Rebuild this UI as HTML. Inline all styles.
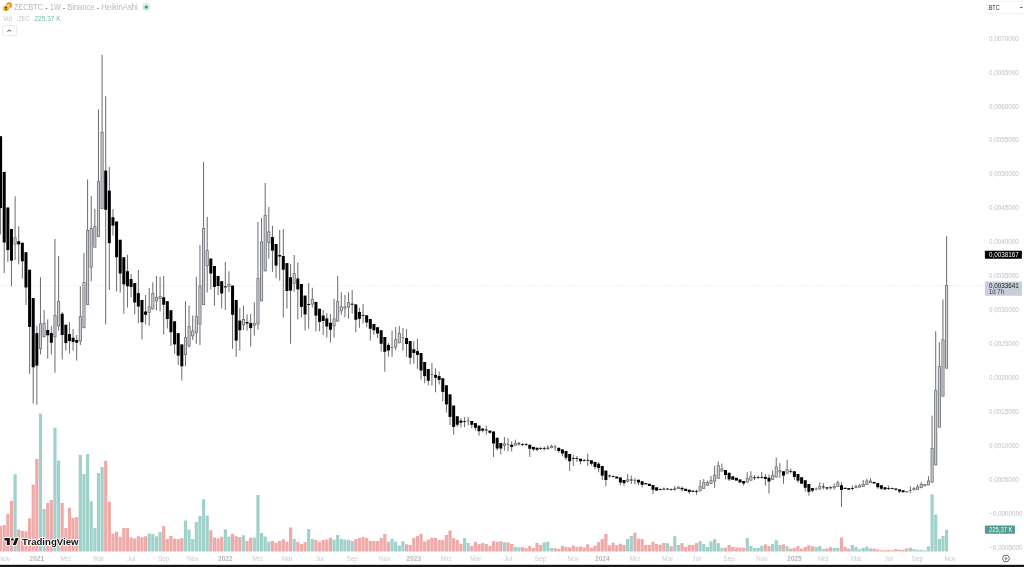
<!DOCTYPE html>
<html><head><meta charset="utf-8"><title>ZECBTC 1W</title>
<style>html,body{margin:0;padding:0;background:#fff;width:1024px;height:567px;overflow:hidden}svg{display:block;will-change:transform}text{font-family:"Liberation Sans",sans-serif}</style>
</head><body>
<svg width="1024" height="567" viewBox="0 0 1024 567">
<rect width="1024" height="567" fill="#fff"/>
<g>
<line x1="0" y1="285.5" x2="984" y2="285.5" stroke="#eceef4" stroke-width="0.8" stroke-dasharray="2.3 1.1"/>
<g>
<rect x="-1.00" y="525.90" width="3.2" height="25.60" fill="#eeaaa8"/>
<rect x="2.62" y="525.00" width="3.2" height="26.50" fill="#eeaaa8"/>
<rect x="6.25" y="514.00" width="3.2" height="37.50" fill="#eeaaa8"/>
<rect x="9.87" y="500.90" width="3.2" height="50.60" fill="#eeaaa8"/>
<rect x="13.50" y="474.25" width="3.2" height="77.25" fill="#a0d1cb"/>
<rect x="17.12" y="529.60" width="3.2" height="21.90" fill="#eeaaa8"/>
<rect x="20.75" y="530.90" width="3.2" height="20.60" fill="#eeaaa8"/>
<rect x="24.37" y="531.25" width="3.2" height="20.25" fill="#eeaaa8"/>
<rect x="28.00" y="518.40" width="3.2" height="33.10" fill="#eeaaa8"/>
<rect x="31.62" y="484.60" width="3.2" height="66.90" fill="#eeaaa8"/>
<rect x="35.24" y="459.00" width="3.2" height="92.50" fill="#eeaaa8"/>
<rect x="38.87" y="413.60" width="3.2" height="137.90" fill="#a0d1cb"/>
<rect x="42.49" y="509.00" width="3.2" height="42.50" fill="#a0d1cb"/>
<rect x="46.12" y="503.00" width="3.2" height="48.50" fill="#eeaaa8"/>
<rect x="49.74" y="500.00" width="3.2" height="51.50" fill="#eeaaa8"/>
<rect x="53.37" y="427.75" width="3.2" height="123.75" fill="#a0d1cb"/>
<rect x="56.99" y="460.50" width="3.2" height="91.00" fill="#a0d1cb"/>
<rect x="60.62" y="503.00" width="3.2" height="48.50" fill="#eeaaa8"/>
<rect x="64.24" y="528.00" width="3.2" height="23.50" fill="#eeaaa8"/>
<rect x="67.87" y="507.75" width="3.2" height="43.75" fill="#eeaaa8"/>
<rect x="71.49" y="518.00" width="3.2" height="33.50" fill="#eeaaa8"/>
<rect x="75.11" y="517.10" width="3.2" height="34.40" fill="#eeaaa8"/>
<rect x="78.74" y="454.90" width="3.2" height="96.60" fill="#a0d1cb"/>
<rect x="82.36" y="474.00" width="3.2" height="77.50" fill="#a0d1cb"/>
<rect x="85.99" y="454.00" width="3.2" height="97.50" fill="#a0d1cb"/>
<rect x="89.61" y="501.25" width="3.2" height="50.25" fill="#a0d1cb"/>
<rect x="93.24" y="528.00" width="3.2" height="23.50" fill="#a0d1cb"/>
<rect x="96.86" y="473.00" width="3.2" height="78.50" fill="#a0d1cb"/>
<rect x="100.49" y="467.00" width="3.2" height="84.50" fill="#a0d1cb"/>
<rect x="104.11" y="460.75" width="3.2" height="90.75" fill="#eeaaa8"/>
<rect x="107.73" y="501.75" width="3.2" height="49.75" fill="#eeaaa8"/>
<rect x="111.36" y="533.40" width="3.2" height="18.10" fill="#eeaaa8"/>
<rect x="114.98" y="531.75" width="3.2" height="19.75" fill="#eeaaa8"/>
<rect x="118.61" y="536.75" width="3.2" height="14.75" fill="#eeaaa8"/>
<rect x="122.23" y="528.00" width="3.2" height="23.50" fill="#eeaaa8"/>
<rect x="125.86" y="528.00" width="3.2" height="23.50" fill="#eeaaa8"/>
<rect x="129.48" y="537.50" width="3.2" height="14.00" fill="#eeaaa8"/>
<rect x="133.11" y="538.40" width="3.2" height="13.10" fill="#eeaaa8"/>
<rect x="136.73" y="536.25" width="3.2" height="15.25" fill="#eeaaa8"/>
<rect x="140.36" y="537.10" width="3.2" height="14.40" fill="#eeaaa8"/>
<rect x="143.98" y="536.25" width="3.2" height="15.25" fill="#eeaaa8"/>
<rect x="147.60" y="533.40" width="3.2" height="18.10" fill="#a0d1cb"/>
<rect x="151.23" y="534.25" width="3.2" height="17.25" fill="#a0d1cb"/>
<rect x="154.85" y="536.25" width="3.2" height="15.25" fill="#a0d1cb"/>
<rect x="158.48" y="532.10" width="3.2" height="19.40" fill="#a0d1cb"/>
<rect x="162.10" y="526.10" width="3.2" height="25.40" fill="#eeaaa8"/>
<rect x="165.73" y="539.00" width="3.2" height="12.50" fill="#eeaaa8"/>
<rect x="169.35" y="535.90" width="3.2" height="15.60" fill="#eeaaa8"/>
<rect x="172.98" y="538.75" width="3.2" height="12.75" fill="#eeaaa8"/>
<rect x="176.60" y="539.00" width="3.2" height="12.50" fill="#eeaaa8"/>
<rect x="180.22" y="538.10" width="3.2" height="13.40" fill="#eeaaa8"/>
<rect x="183.85" y="520.50" width="3.2" height="31.00" fill="#a0d1cb"/>
<rect x="187.47" y="529.60" width="3.2" height="21.90" fill="#a0d1cb"/>
<rect x="191.10" y="539.00" width="3.2" height="12.50" fill="#a0d1cb"/>
<rect x="194.72" y="522.10" width="3.2" height="29.40" fill="#a0d1cb"/>
<rect x="198.35" y="515.90" width="3.2" height="35.60" fill="#a0d1cb"/>
<rect x="201.97" y="499.25" width="3.2" height="52.25" fill="#a0d1cb"/>
<rect x="205.60" y="515.50" width="3.2" height="36.00" fill="#a0d1cb"/>
<rect x="209.22" y="530.25" width="3.2" height="21.25" fill="#eeaaa8"/>
<rect x="212.85" y="537.50" width="3.2" height="14.00" fill="#eeaaa8"/>
<rect x="216.47" y="538.40" width="3.2" height="13.10" fill="#eeaaa8"/>
<rect x="220.09" y="536.75" width="3.2" height="14.75" fill="#eeaaa8"/>
<rect x="223.72" y="529.25" width="3.2" height="22.25" fill="#a0d1cb"/>
<rect x="227.34" y="536.50" width="3.2" height="15.00" fill="#a0d1cb"/>
<rect x="230.97" y="533.75" width="3.2" height="17.75" fill="#eeaaa8"/>
<rect x="234.59" y="536.25" width="3.2" height="15.25" fill="#eeaaa8"/>
<rect x="238.22" y="537.10" width="3.2" height="14.40" fill="#eeaaa8"/>
<rect x="241.84" y="535.25" width="3.2" height="16.25" fill="#a0d1cb"/>
<rect x="245.47" y="540.90" width="3.2" height="10.60" fill="#eeaaa8"/>
<rect x="249.09" y="537.75" width="3.2" height="13.75" fill="#eeaaa8"/>
<rect x="252.71" y="537.50" width="3.2" height="14.00" fill="#a0d1cb"/>
<rect x="256.34" y="495.00" width="3.2" height="56.50" fill="#a0d1cb"/>
<rect x="259.96" y="533.00" width="3.2" height="18.50" fill="#a0d1cb"/>
<rect x="263.59" y="536.50" width="3.2" height="15.00" fill="#a0d1cb"/>
<rect x="267.21" y="541.75" width="3.2" height="9.75" fill="#a0d1cb"/>
<rect x="270.84" y="540.90" width="3.2" height="10.60" fill="#eeaaa8"/>
<rect x="274.46" y="542.75" width="3.2" height="8.75" fill="#eeaaa8"/>
<rect x="278.09" y="540.90" width="3.2" height="10.60" fill="#eeaaa8"/>
<rect x="281.71" y="539.25" width="3.2" height="12.25" fill="#eeaaa8"/>
<rect x="285.34" y="541.75" width="3.2" height="9.75" fill="#eeaaa8"/>
<rect x="288.96" y="527.50" width="3.2" height="24.00" fill="#eeaaa8"/>
<rect x="292.58" y="539.00" width="3.2" height="12.50" fill="#a0d1cb"/>
<rect x="296.21" y="541.75" width="3.2" height="9.75" fill="#eeaaa8"/>
<rect x="299.83" y="544.00" width="3.2" height="7.50" fill="#eeaaa8"/>
<rect x="303.46" y="542.10" width="3.2" height="9.40" fill="#eeaaa8"/>
<rect x="307.08" y="529.00" width="3.2" height="22.50" fill="#a0d1cb"/>
<rect x="310.71" y="539.00" width="3.2" height="12.50" fill="#a0d1cb"/>
<rect x="314.33" y="539.90" width="3.2" height="11.60" fill="#eeaaa8"/>
<rect x="317.96" y="541.75" width="3.2" height="9.75" fill="#eeaaa8"/>
<rect x="321.58" y="539.90" width="3.2" height="11.60" fill="#eeaaa8"/>
<rect x="325.20" y="539.60" width="3.2" height="11.90" fill="#eeaaa8"/>
<rect x="328.83" y="537.75" width="3.2" height="13.75" fill="#eeaaa8"/>
<rect x="332.45" y="539.60" width="3.2" height="11.90" fill="#a0d1cb"/>
<rect x="336.08" y="535.00" width="3.2" height="16.50" fill="#a0d1cb"/>
<rect x="339.70" y="539.00" width="3.2" height="12.50" fill="#a0d1cb"/>
<rect x="343.33" y="539.60" width="3.2" height="11.90" fill="#a0d1cb"/>
<rect x="346.95" y="540.00" width="3.2" height="11.50" fill="#a0d1cb"/>
<rect x="350.58" y="540.90" width="3.2" height="10.60" fill="#a0d1cb"/>
<rect x="354.20" y="539.00" width="3.2" height="12.50" fill="#eeaaa8"/>
<rect x="357.83" y="538.00" width="3.2" height="13.50" fill="#eeaaa8"/>
<rect x="361.45" y="537.10" width="3.2" height="14.40" fill="#eeaaa8"/>
<rect x="365.07" y="538.00" width="3.2" height="13.50" fill="#eeaaa8"/>
<rect x="368.70" y="540.90" width="3.2" height="10.60" fill="#eeaaa8"/>
<rect x="372.32" y="540.90" width="3.2" height="10.60" fill="#eeaaa8"/>
<rect x="375.95" y="540.90" width="3.2" height="10.60" fill="#eeaaa8"/>
<rect x="379.57" y="538.00" width="3.2" height="13.50" fill="#eeaaa8"/>
<rect x="383.20" y="534.00" width="3.2" height="17.50" fill="#eeaaa8"/>
<rect x="386.82" y="541.75" width="3.2" height="9.75" fill="#eeaaa8"/>
<rect x="390.45" y="538.75" width="3.2" height="12.75" fill="#a0d1cb"/>
<rect x="394.07" y="541.75" width="3.2" height="9.75" fill="#a0d1cb"/>
<rect x="397.69" y="545.50" width="3.2" height="6.00" fill="#a0d1cb"/>
<rect x="401.32" y="541.25" width="3.2" height="10.25" fill="#a0d1cb"/>
<rect x="404.94" y="544.25" width="3.2" height="7.25" fill="#eeaaa8"/>
<rect x="408.57" y="545.00" width="3.2" height="6.50" fill="#eeaaa8"/>
<rect x="412.19" y="538.10" width="3.2" height="13.40" fill="#eeaaa8"/>
<rect x="415.82" y="535.90" width="3.2" height="15.60" fill="#eeaaa8"/>
<rect x="419.44" y="533.75" width="3.2" height="17.75" fill="#eeaaa8"/>
<rect x="423.07" y="541.50" width="3.2" height="10.00" fill="#eeaaa8"/>
<rect x="426.69" y="539.60" width="3.2" height="11.90" fill="#eeaaa8"/>
<rect x="430.32" y="537.75" width="3.2" height="13.75" fill="#eeaaa8"/>
<rect x="433.94" y="538.00" width="3.2" height="13.50" fill="#eeaaa8"/>
<rect x="437.56" y="539.90" width="3.2" height="11.60" fill="#eeaaa8"/>
<rect x="441.19" y="539.90" width="3.2" height="11.60" fill="#eeaaa8"/>
<rect x="444.81" y="535.00" width="3.2" height="16.50" fill="#eeaaa8"/>
<rect x="448.44" y="530.50" width="3.2" height="21.00" fill="#eeaaa8"/>
<rect x="452.06" y="538.10" width="3.2" height="13.40" fill="#eeaaa8"/>
<rect x="455.69" y="539.90" width="3.2" height="11.60" fill="#eeaaa8"/>
<rect x="459.31" y="543.75" width="3.2" height="7.75" fill="#eeaaa8"/>
<rect x="462.94" y="538.10" width="3.2" height="13.40" fill="#a0d1cb"/>
<rect x="466.56" y="543.10" width="3.2" height="8.40" fill="#a0d1cb"/>
<rect x="470.19" y="545.90" width="3.2" height="5.60" fill="#eeaaa8"/>
<rect x="473.81" y="541.75" width="3.2" height="9.75" fill="#eeaaa8"/>
<rect x="477.43" y="544.00" width="3.2" height="7.50" fill="#eeaaa8"/>
<rect x="481.06" y="543.10" width="3.2" height="8.40" fill="#eeaaa8"/>
<rect x="484.68" y="544.00" width="3.2" height="7.50" fill="#eeaaa8"/>
<rect x="488.31" y="545.90" width="3.2" height="5.60" fill="#eeaaa8"/>
<rect x="491.93" y="541.10" width="3.2" height="10.40" fill="#eeaaa8"/>
<rect x="495.56" y="541.75" width="3.2" height="9.75" fill="#eeaaa8"/>
<rect x="499.18" y="541.25" width="3.2" height="10.25" fill="#eeaaa8"/>
<rect x="502.81" y="542.25" width="3.2" height="9.25" fill="#a0d1cb"/>
<rect x="506.43" y="542.50" width="3.2" height="9.00" fill="#eeaaa8"/>
<rect x="510.05" y="544.00" width="3.2" height="7.50" fill="#eeaaa8"/>
<rect x="513.68" y="546.90" width="3.2" height="4.60" fill="#a0d1cb"/>
<rect x="517.30" y="547.40" width="3.2" height="4.10" fill="#a0d1cb"/>
<rect x="520.93" y="547.10" width="3.2" height="4.40" fill="#eeaaa8"/>
<rect x="524.55" y="548.00" width="3.2" height="3.50" fill="#eeaaa8"/>
<rect x="528.18" y="546.10" width="3.2" height="5.40" fill="#eeaaa8"/>
<rect x="531.80" y="548.00" width="3.2" height="3.50" fill="#eeaaa8"/>
<rect x="535.43" y="543.00" width="3.2" height="8.50" fill="#eeaaa8"/>
<rect x="539.05" y="544.90" width="3.2" height="6.60" fill="#eeaaa8"/>
<rect x="542.67" y="542.40" width="3.2" height="9.10" fill="#a0d1cb"/>
<rect x="546.30" y="541.75" width="3.2" height="9.75" fill="#a0d1cb"/>
<rect x="549.92" y="548.00" width="3.2" height="3.50" fill="#a0d1cb"/>
<rect x="553.55" y="548.10" width="3.2" height="3.40" fill="#eeaaa8"/>
<rect x="557.17" y="549.00" width="3.2" height="2.50" fill="#eeaaa8"/>
<rect x="560.80" y="545.90" width="3.2" height="5.60" fill="#eeaaa8"/>
<rect x="564.42" y="546.90" width="3.2" height="4.60" fill="#eeaaa8"/>
<rect x="568.05" y="547.40" width="3.2" height="4.10" fill="#eeaaa8"/>
<rect x="571.67" y="545.60" width="3.2" height="5.90" fill="#eeaaa8"/>
<rect x="575.30" y="546.90" width="3.2" height="4.60" fill="#eeaaa8"/>
<rect x="578.92" y="546.50" width="3.2" height="5.00" fill="#eeaaa8"/>
<rect x="582.54" y="547.40" width="3.2" height="4.10" fill="#eeaaa8"/>
<rect x="586.17" y="544.25" width="3.2" height="7.25" fill="#eeaaa8"/>
<rect x="589.79" y="547.75" width="3.2" height="3.75" fill="#eeaaa8"/>
<rect x="593.42" y="545.60" width="3.2" height="5.90" fill="#eeaaa8"/>
<rect x="597.04" y="542.10" width="3.2" height="9.40" fill="#eeaaa8"/>
<rect x="600.67" y="539.00" width="3.2" height="12.50" fill="#eeaaa8"/>
<rect x="604.29" y="534.00" width="3.2" height="17.50" fill="#eeaaa8"/>
<rect x="607.92" y="545.25" width="3.2" height="6.25" fill="#eeaaa8"/>
<rect x="611.54" y="542.75" width="3.2" height="8.75" fill="#eeaaa8"/>
<rect x="615.16" y="545.25" width="3.2" height="6.25" fill="#eeaaa8"/>
<rect x="618.79" y="543.75" width="3.2" height="7.75" fill="#eeaaa8"/>
<rect x="622.41" y="544.90" width="3.2" height="6.60" fill="#eeaaa8"/>
<rect x="626.04" y="539.00" width="3.2" height="12.50" fill="#a0d1cb"/>
<rect x="629.66" y="535.90" width="3.2" height="15.60" fill="#a0d1cb"/>
<rect x="633.29" y="532.75" width="3.2" height="18.75" fill="#eeaaa8"/>
<rect x="636.91" y="538.75" width="3.2" height="12.75" fill="#eeaaa8"/>
<rect x="640.54" y="539.00" width="3.2" height="12.50" fill="#eeaaa8"/>
<rect x="644.16" y="544.90" width="3.2" height="6.60" fill="#eeaaa8"/>
<rect x="647.79" y="544.90" width="3.2" height="6.60" fill="#eeaaa8"/>
<rect x="651.41" y="541.75" width="3.2" height="9.75" fill="#eeaaa8"/>
<rect x="655.03" y="544.00" width="3.2" height="7.50" fill="#eeaaa8"/>
<rect x="658.66" y="544.60" width="3.2" height="6.90" fill="#eeaaa8"/>
<rect x="662.28" y="543.00" width="3.2" height="8.50" fill="#eeaaa8"/>
<rect x="665.91" y="543.25" width="3.2" height="8.25" fill="#a0d1cb"/>
<rect x="669.53" y="546.25" width="3.2" height="5.25" fill="#eeaaa8"/>
<rect x="673.16" y="536.25" width="3.2" height="15.25" fill="#a0d1cb"/>
<rect x="676.78" y="545.00" width="3.2" height="6.50" fill="#a0d1cb"/>
<rect x="680.41" y="543.10" width="3.2" height="8.40" fill="#eeaaa8"/>
<rect x="684.03" y="546.90" width="3.2" height="4.60" fill="#eeaaa8"/>
<rect x="687.65" y="544.90" width="3.2" height="6.60" fill="#eeaaa8"/>
<rect x="691.28" y="544.90" width="3.2" height="6.60" fill="#eeaaa8"/>
<rect x="694.90" y="543.10" width="3.2" height="8.40" fill="#eeaaa8"/>
<rect x="698.53" y="541.10" width="3.2" height="10.40" fill="#a0d1cb"/>
<rect x="702.15" y="544.00" width="3.2" height="7.50" fill="#a0d1cb"/>
<rect x="705.78" y="546.90" width="3.2" height="4.60" fill="#a0d1cb"/>
<rect x="709.40" y="541.50" width="3.2" height="10.00" fill="#a0d1cb"/>
<rect x="713.03" y="539.00" width="3.2" height="12.50" fill="#a0d1cb"/>
<rect x="716.65" y="543.10" width="3.2" height="8.40" fill="#a0d1cb"/>
<rect x="720.28" y="547.75" width="3.2" height="3.75" fill="#a0d1cb"/>
<rect x="723.90" y="547.75" width="3.2" height="3.75" fill="#eeaaa8"/>
<rect x="727.52" y="545.00" width="3.2" height="6.50" fill="#eeaaa8"/>
<rect x="731.15" y="546.90" width="3.2" height="4.60" fill="#eeaaa8"/>
<rect x="734.77" y="547.50" width="3.2" height="4.00" fill="#eeaaa8"/>
<rect x="738.40" y="547.50" width="3.2" height="4.00" fill="#eeaaa8"/>
<rect x="742.02" y="547.75" width="3.2" height="3.75" fill="#eeaaa8"/>
<rect x="745.65" y="538.10" width="3.2" height="13.40" fill="#a0d1cb"/>
<rect x="749.27" y="545.90" width="3.2" height="5.60" fill="#a0d1cb"/>
<rect x="752.90" y="548.00" width="3.2" height="3.50" fill="#a0d1cb"/>
<rect x="756.52" y="547.75" width="3.2" height="3.75" fill="#a0d1cb"/>
<rect x="760.14" y="545.90" width="3.2" height="5.60" fill="#a0d1cb"/>
<rect x="763.77" y="544.40" width="3.2" height="7.10" fill="#eeaaa8"/>
<rect x="767.39" y="546.10" width="3.2" height="5.40" fill="#eeaaa8"/>
<rect x="771.02" y="544.00" width="3.2" height="7.50" fill="#a0d1cb"/>
<rect x="774.64" y="540.25" width="3.2" height="11.25" fill="#a0d1cb"/>
<rect x="778.27" y="544.90" width="3.2" height="6.60" fill="#a0d1cb"/>
<rect x="781.89" y="544.40" width="3.2" height="7.10" fill="#eeaaa8"/>
<rect x="785.52" y="546.10" width="3.2" height="5.40" fill="#a0d1cb"/>
<rect x="789.14" y="548.60" width="3.2" height="2.90" fill="#eeaaa8"/>
<rect x="792.77" y="548.00" width="3.2" height="3.50" fill="#eeaaa8"/>
<rect x="796.39" y="546.10" width="3.2" height="5.40" fill="#eeaaa8"/>
<rect x="800.01" y="548.60" width="3.2" height="2.90" fill="#eeaaa8"/>
<rect x="803.64" y="546.90" width="3.2" height="4.60" fill="#eeaaa8"/>
<rect x="807.26" y="545.25" width="3.2" height="6.25" fill="#eeaaa8"/>
<rect x="810.89" y="546.25" width="3.2" height="5.25" fill="#eeaaa8"/>
<rect x="814.51" y="547.10" width="3.2" height="4.40" fill="#a0d1cb"/>
<rect x="818.14" y="546.10" width="3.2" height="5.40" fill="#a0d1cb"/>
<rect x="821.76" y="549.00" width="3.2" height="2.50" fill="#a0d1cb"/>
<rect x="825.39" y="548.40" width="3.2" height="3.10" fill="#eeaaa8"/>
<rect x="829.01" y="547.10" width="3.2" height="4.40" fill="#eeaaa8"/>
<rect x="832.63" y="548.00" width="3.2" height="3.50" fill="#a0d1cb"/>
<rect x="836.26" y="547.75" width="3.2" height="3.75" fill="#a0d1cb"/>
<rect x="839.88" y="537.40" width="3.2" height="14.10" fill="#eeaaa8"/>
<rect x="843.51" y="546.90" width="3.2" height="4.60" fill="#eeaaa8"/>
<rect x="847.13" y="548.60" width="3.2" height="2.90" fill="#eeaaa8"/>
<rect x="850.76" y="544.90" width="3.2" height="6.60" fill="#a0d1cb"/>
<rect x="854.38" y="546.90" width="3.2" height="4.60" fill="#a0d1cb"/>
<rect x="858.01" y="549.25" width="3.2" height="2.25" fill="#a0d1cb"/>
<rect x="861.63" y="548.00" width="3.2" height="3.50" fill="#a0d1cb"/>
<rect x="865.26" y="546.50" width="3.2" height="5.00" fill="#a0d1cb"/>
<rect x="868.88" y="548.40" width="3.2" height="3.10" fill="#a0d1cb"/>
<rect x="872.50" y="548.60" width="3.2" height="2.90" fill="#eeaaa8"/>
<rect x="876.13" y="549.60" width="3.2" height="1.90" fill="#eeaaa8"/>
<rect x="879.75" y="550.25" width="3.2" height="1.25" fill="#eeaaa8"/>
<rect x="883.38" y="550.25" width="3.2" height="1.25" fill="#eeaaa8"/>
<rect x="887.00" y="550.00" width="3.2" height="1.50" fill="#eeaaa8"/>
<rect x="890.63" y="550.25" width="3.2" height="1.25" fill="#eeaaa8"/>
<rect x="894.25" y="549.00" width="3.2" height="2.50" fill="#eeaaa8"/>
<rect x="897.88" y="549.75" width="3.2" height="1.75" fill="#eeaaa8"/>
<rect x="901.50" y="549.75" width="3.2" height="1.75" fill="#eeaaa8"/>
<rect x="905.12" y="548.50" width="3.2" height="3.00" fill="#eeaaa8"/>
<rect x="908.75" y="547.60" width="3.2" height="3.90" fill="#a0d1cb"/>
<rect x="912.37" y="549.10" width="3.2" height="2.40" fill="#a0d1cb"/>
<rect x="916.00" y="549.75" width="3.2" height="1.75" fill="#a0d1cb"/>
<rect x="919.62" y="549.75" width="3.2" height="1.75" fill="#a0d1cb"/>
<rect x="923.25" y="550.40" width="3.2" height="1.10" fill="#a0d1cb"/>
<rect x="926.87" y="546.40" width="3.2" height="5.10" fill="#a0d1cb"/>
<rect x="930.50" y="494.40" width="3.2" height="57.10" fill="#a0d1cb"/>
<rect x="934.12" y="514.50" width="3.2" height="37.00" fill="#a0d1cb"/>
<rect x="937.75" y="538.90" width="3.2" height="12.60" fill="#a0d1cb"/>
<rect x="941.37" y="536.00" width="3.2" height="15.50" fill="#a0d1cb"/>
<rect x="944.99" y="529.75" width="3.2" height="21.75" fill="#a0d1cb"/>
</g>
<g>
<rect x="0.10" y="136.25" width="1" height="98.15" fill="#6c6c6c"/>
<rect x="-0.90" y="136.25" width="3" height="71.85" fill="#000"/>
<rect x="3.72" y="171.90" width="1" height="101.20" fill="#6c6c6c"/>
<rect x="2.72" y="171.90" width="3" height="70.60" fill="#000"/>
<rect x="7.35" y="207.50" width="1" height="54.40" fill="#6c6c6c"/>
<rect x="6.35" y="207.50" width="3" height="42.50" fill="#000"/>
<rect x="10.97" y="229.00" width="1" height="57.25" fill="#6c6c6c"/>
<rect x="9.97" y="229.00" width="3" height="31.60" fill="#000"/>
<rect x="14.60" y="196.25" width="1" height="63.75" fill="#6c6c6c"/>
<rect x="13.60" y="237.50" width="3" height="6.90" fill="#686b70"/>
<rect x="14.40" y="238.20" width="1.4" height="5.50" fill="#cdd0d7"/>
<rect x="18.22" y="226.25" width="1" height="38.15" fill="#6c6c6c"/>
<rect x="17.22" y="241.25" width="3" height="3.15" fill="#000"/>
<rect x="21.85" y="242.75" width="1" height="35.75" fill="#6c6c6c"/>
<rect x="20.85" y="242.75" width="3" height="18.50" fill="#000"/>
<rect x="25.47" y="252.25" width="1" height="52.75" fill="#6c6c6c"/>
<rect x="24.47" y="252.25" width="3" height="35.25" fill="#000"/>
<rect x="29.10" y="269.75" width="1" height="104.00" fill="#6c6c6c"/>
<rect x="28.10" y="269.75" width="3" height="57.15" fill="#000"/>
<rect x="32.72" y="298.10" width="1" height="105.40" fill="#6c6c6c"/>
<rect x="31.72" y="298.10" width="3" height="69.15" fill="#000"/>
<rect x="36.34" y="325.60" width="1" height="79.15" fill="#6c6c6c"/>
<rect x="35.34" y="333.10" width="3" height="32.50" fill="#000"/>
<rect x="39.97" y="277.25" width="1" height="77.15" fill="#6c6c6c"/>
<rect x="38.97" y="323.50" width="3" height="25.50" fill="#686b70"/>
<rect x="39.77" y="324.20" width="1.4" height="24.10" fill="#cdd0d7"/>
<rect x="43.59" y="310.00" width="1" height="27.50" fill="#6c6c6c"/>
<rect x="42.59" y="323.10" width="3" height="13.80" fill="#686b70"/>
<rect x="43.39" y="323.80" width="1.4" height="12.40" fill="#cdd0d7"/>
<rect x="47.22" y="319.40" width="1" height="39.35" fill="#6c6c6c"/>
<rect x="46.22" y="330.00" width="3" height="5.25" fill="#000"/>
<rect x="50.84" y="326.25" width="1" height="28.50" fill="#6c6c6c"/>
<rect x="49.84" y="333.10" width="3" height="9.65" fill="#000"/>
<rect x="54.47" y="239.00" width="1" height="133.75" fill="#6c6c6c"/>
<rect x="53.47" y="315.00" width="3" height="22.25" fill="#686b70"/>
<rect x="54.27" y="315.70" width="1.4" height="20.85" fill="#cdd0d7"/>
<rect x="58.09" y="256.00" width="1" height="74.60" fill="#6c6c6c"/>
<rect x="57.09" y="301.00" width="3" height="25.25" fill="#686b70"/>
<rect x="57.89" y="301.70" width="1.4" height="23.85" fill="#cdd0d7"/>
<rect x="61.72" y="311.90" width="1" height="47.50" fill="#6c6c6c"/>
<rect x="60.72" y="313.75" width="3" height="21.25" fill="#000"/>
<rect x="65.34" y="324.75" width="1" height="25.85" fill="#6c6c6c"/>
<rect x="64.34" y="324.75" width="3" height="18.35" fill="#000"/>
<rect x="68.97" y="322.25" width="1" height="31.25" fill="#6c6c6c"/>
<rect x="67.97" y="334.00" width="3" height="7.00" fill="#000"/>
<rect x="72.59" y="329.00" width="1" height="21.60" fill="#6c6c6c"/>
<rect x="71.59" y="337.75" width="3" height="4.15" fill="#000"/>
<rect x="76.21" y="335.00" width="1" height="25.60" fill="#6c6c6c"/>
<rect x="75.21" y="340.00" width="3" height="2.75" fill="#000"/>
<rect x="79.84" y="286.25" width="1" height="58.75" fill="#6c6c6c"/>
<rect x="78.84" y="316.25" width="3" height="25.00" fill="#686b70"/>
<rect x="79.64" y="316.95" width="1.4" height="23.60" fill="#cdd0d7"/>
<rect x="83.46" y="253.00" width="1" height="75.10" fill="#6c6c6c"/>
<rect x="82.46" y="282.25" width="3" height="45.85" fill="#686b70"/>
<rect x="83.26" y="282.95" width="1.4" height="44.45" fill="#cdd0d7"/>
<rect x="87.09" y="179.40" width="1" height="125.60" fill="#6c6c6c"/>
<rect x="86.09" y="230.00" width="3" height="75.00" fill="#686b70"/>
<rect x="86.89" y="230.70" width="1.4" height="73.60" fill="#cdd0d7"/>
<rect x="90.71" y="196.00" width="1" height="85.25" fill="#6c6c6c"/>
<rect x="89.71" y="228.10" width="3" height="39.40" fill="#686b70"/>
<rect x="90.51" y="228.80" width="1.4" height="38.00" fill="#cdd0d7"/>
<rect x="94.34" y="208.75" width="1" height="38.75" fill="#6c6c6c"/>
<rect x="93.34" y="226.25" width="3" height="21.25" fill="#686b70"/>
<rect x="94.14" y="226.95" width="1.4" height="19.85" fill="#cdd0d7"/>
<rect x="97.96" y="109.40" width="1" height="127.50" fill="#6c6c6c"/>
<rect x="96.96" y="181.25" width="3" height="55.65" fill="#686b70"/>
<rect x="97.76" y="181.95" width="1.4" height="54.25" fill="#cdd0d7"/>
<rect x="101.59" y="54.75" width="1" height="154.00" fill="#6c6c6c"/>
<rect x="100.59" y="131.90" width="3" height="76.85" fill="#686b70"/>
<rect x="101.39" y="132.60" width="1.4" height="75.45" fill="#cdd0d7"/>
<rect x="105.21" y="96.25" width="1" height="228.15" fill="#6c6c6c"/>
<rect x="104.21" y="170.60" width="3" height="39.15" fill="#000"/>
<rect x="108.83" y="166.90" width="1" height="123.10" fill="#6c6c6c"/>
<rect x="107.83" y="190.60" width="3" height="52.50" fill="#000"/>
<rect x="112.46" y="209.00" width="1" height="26.60" fill="#6c6c6c"/>
<rect x="111.46" y="217.25" width="3" height="8.35" fill="#000"/>
<rect x="116.08" y="221.50" width="1" height="70.00" fill="#6c6c6c"/>
<rect x="115.08" y="221.50" width="3" height="35.75" fill="#000"/>
<rect x="119.71" y="239.75" width="1" height="52.75" fill="#6c6c6c"/>
<rect x="118.71" y="239.75" width="3" height="33.75" fill="#000"/>
<rect x="123.33" y="257.25" width="1" height="56.50" fill="#6c6c6c"/>
<rect x="122.33" y="257.25" width="3" height="27.15" fill="#000"/>
<rect x="126.96" y="254.75" width="1" height="52.75" fill="#6c6c6c"/>
<rect x="125.96" y="271.25" width="3" height="15.00" fill="#000"/>
<rect x="130.58" y="274.00" width="1" height="23.50" fill="#6c6c6c"/>
<rect x="129.58" y="279.00" width="3" height="7.90" fill="#000"/>
<rect x="134.21" y="283.10" width="1" height="31.30" fill="#6c6c6c"/>
<rect x="133.21" y="283.10" width="3" height="19.40" fill="#000"/>
<rect x="137.83" y="270.00" width="1" height="53.10" fill="#6c6c6c"/>
<rect x="136.83" y="293.10" width="3" height="13.40" fill="#000"/>
<rect x="141.46" y="300.00" width="1" height="39.40" fill="#6c6c6c"/>
<rect x="140.46" y="300.00" width="3" height="22.25" fill="#000"/>
<rect x="145.08" y="295.00" width="1" height="29.40" fill="#6c6c6c"/>
<rect x="144.08" y="311.50" width="3" height="3.25" fill="#000"/>
<rect x="148.70" y="288.10" width="1" height="37.50" fill="#6c6c6c"/>
<rect x="147.70" y="306.50" width="3" height="6.25" fill="#686b70"/>
<rect x="148.50" y="307.20" width="1.4" height="4.85" fill="#cdd0d7"/>
<rect x="152.33" y="282.25" width="1" height="27.15" fill="#6c6c6c"/>
<rect x="151.33" y="293.10" width="3" height="16.30" fill="#686b70"/>
<rect x="152.13" y="293.80" width="1.4" height="14.90" fill="#cdd0d7"/>
<rect x="155.95" y="276.00" width="1" height="34.60" fill="#6c6c6c"/>
<rect x="154.95" y="296.90" width="3" height="4.35" fill="#686b70"/>
<rect x="155.75" y="297.60" width="1.4" height="2.95" fill="#cdd0d7"/>
<rect x="159.58" y="276.90" width="1" height="34.60" fill="#6c6c6c"/>
<rect x="158.58" y="296.25" width="3" height="2.75" fill="#686b70"/>
<rect x="159.38" y="296.95" width="1.4" height="1.35" fill="#cdd0d7"/>
<rect x="163.20" y="276.00" width="1" height="58.40" fill="#6c6c6c"/>
<rect x="162.20" y="297.25" width="3" height="7.50" fill="#000"/>
<rect x="166.83" y="301.25" width="1" height="27.25" fill="#6c6c6c"/>
<rect x="165.83" y="301.25" width="3" height="17.75" fill="#000"/>
<rect x="170.45" y="310.25" width="1" height="35.75" fill="#6c6c6c"/>
<rect x="169.45" y="310.25" width="3" height="22.00" fill="#000"/>
<rect x="174.08" y="321.25" width="1" height="32.50" fill="#6c6c6c"/>
<rect x="173.08" y="321.25" width="3" height="23.15" fill="#000"/>
<rect x="177.70" y="333.10" width="1" height="31.90" fill="#6c6c6c"/>
<rect x="176.70" y="333.10" width="3" height="22.50" fill="#000"/>
<rect x="181.32" y="344.40" width="1" height="36.20" fill="#6c6c6c"/>
<rect x="180.32" y="344.40" width="3" height="21.85" fill="#000"/>
<rect x="184.95" y="301.25" width="1" height="65.00" fill="#6c6c6c"/>
<rect x="183.95" y="337.25" width="3" height="17.75" fill="#686b70"/>
<rect x="184.75" y="337.95" width="1.4" height="16.35" fill="#cdd0d7"/>
<rect x="188.57" y="305.60" width="1" height="41.90" fill="#6c6c6c"/>
<rect x="187.57" y="326.25" width="3" height="20.00" fill="#686b70"/>
<rect x="188.37" y="326.95" width="1.4" height="18.60" fill="#cdd0d7"/>
<rect x="192.20" y="315.60" width="1" height="24.40" fill="#6c6c6c"/>
<rect x="191.20" y="330.60" width="3" height="5.65" fill="#686b70"/>
<rect x="192.00" y="331.30" width="1.4" height="4.25" fill="#cdd0d7"/>
<rect x="195.82" y="276.90" width="1" height="66.85" fill="#6c6c6c"/>
<rect x="194.82" y="316.25" width="3" height="16.85" fill="#686b70"/>
<rect x="195.62" y="316.95" width="1.4" height="15.45" fill="#cdd0d7"/>
<rect x="199.45" y="245.00" width="1" height="100.00" fill="#6c6c6c"/>
<rect x="198.45" y="285.60" width="3" height="38.80" fill="#686b70"/>
<rect x="199.25" y="286.30" width="1.4" height="37.40" fill="#cdd0d7"/>
<rect x="203.07" y="161.90" width="1" height="143.10" fill="#6c6c6c"/>
<rect x="202.07" y="228.10" width="3" height="76.90" fill="#686b70"/>
<rect x="202.87" y="228.80" width="1.4" height="75.50" fill="#cdd0d7"/>
<rect x="206.70" y="216.90" width="1" height="75.60" fill="#6c6c6c"/>
<rect x="205.70" y="250.25" width="3" height="16.00" fill="#686b70"/>
<rect x="206.50" y="250.95" width="1.4" height="14.60" fill="#cdd0d7"/>
<rect x="210.32" y="258.50" width="1" height="30.90" fill="#6c6c6c"/>
<rect x="209.32" y="258.50" width="3" height="15.00" fill="#000"/>
<rect x="213.95" y="266.00" width="1" height="39.60" fill="#6c6c6c"/>
<rect x="212.95" y="266.00" width="3" height="20.90" fill="#000"/>
<rect x="217.57" y="276.00" width="1" height="19.00" fill="#6c6c6c"/>
<rect x="216.57" y="276.00" width="3" height="10.00" fill="#000"/>
<rect x="221.19" y="281.25" width="1" height="27.25" fill="#6c6c6c"/>
<rect x="220.19" y="281.25" width="3" height="12.25" fill="#000"/>
<rect x="224.82" y="261.90" width="1" height="48.10" fill="#6c6c6c"/>
<rect x="223.82" y="286.40" width="3" height="1.00" fill="#000"/>
<rect x="228.44" y="271.25" width="1" height="21.00" fill="#6c6c6c"/>
<rect x="227.44" y="284.00" width="3" height="2.90" fill="#686b70"/>
<rect x="228.24" y="284.70" width="1.4" height="1.50" fill="#cdd0d7"/>
<rect x="232.07" y="285.60" width="1" height="63.15" fill="#6c6c6c"/>
<rect x="231.07" y="285.60" width="3" height="29.15" fill="#000"/>
<rect x="235.69" y="300.00" width="1" height="56.90" fill="#6c6c6c"/>
<rect x="234.69" y="300.00" width="3" height="40.60" fill="#000"/>
<rect x="239.32" y="308.10" width="1" height="42.50" fill="#6c6c6c"/>
<rect x="238.32" y="320.60" width="3" height="9.65" fill="#000"/>
<rect x="242.94" y="305.60" width="1" height="24.40" fill="#6c6c6c"/>
<rect x="241.94" y="319.00" width="3" height="6.25" fill="#686b70"/>
<rect x="242.74" y="319.70" width="1.4" height="4.85" fill="#cdd0d7"/>
<rect x="246.57" y="314.40" width="1" height="16.20" fill="#6c6c6c"/>
<rect x="245.57" y="322.00" width="3" height="1.50" fill="#000"/>
<rect x="250.19" y="314.00" width="1" height="32.50" fill="#6c6c6c"/>
<rect x="249.19" y="323.10" width="3" height="5.00" fill="#000"/>
<rect x="253.81" y="302.25" width="1" height="33.35" fill="#6c6c6c"/>
<rect x="252.81" y="323.10" width="3" height="2.50" fill="#686b70"/>
<rect x="253.61" y="323.80" width="1.4" height="1.10" fill="#cdd0d7"/>
<rect x="257.44" y="222.00" width="1" height="107.40" fill="#6c6c6c"/>
<rect x="256.44" y="278.10" width="3" height="46.30" fill="#686b70"/>
<rect x="257.24" y="278.80" width="1.4" height="44.90" fill="#cdd0d7"/>
<rect x="261.06" y="218.00" width="1" height="83.25" fill="#6c6c6c"/>
<rect x="260.06" y="241.50" width="3" height="59.75" fill="#686b70"/>
<rect x="260.86" y="242.20" width="1.4" height="58.35" fill="#cdd0d7"/>
<rect x="264.69" y="183.00" width="1" height="88.25" fill="#6c6c6c"/>
<rect x="263.69" y="214.90" width="3" height="56.35" fill="#686b70"/>
<rect x="264.49" y="215.60" width="1.4" height="54.95" fill="#cdd0d7"/>
<rect x="268.31" y="207.00" width="1" height="51.75" fill="#6c6c6c"/>
<rect x="267.31" y="231.50" width="3" height="11.60" fill="#686b70"/>
<rect x="268.11" y="232.20" width="1.4" height="10.20" fill="#cdd0d7"/>
<rect x="271.94" y="225.75" width="1" height="46.15" fill="#6c6c6c"/>
<rect x="270.94" y="237.00" width="3" height="13.60" fill="#000"/>
<rect x="275.56" y="244.00" width="1" height="34.10" fill="#6c6c6c"/>
<rect x="274.56" y="244.00" width="3" height="21.60" fill="#000"/>
<rect x="279.19" y="229.90" width="1" height="50.70" fill="#6c6c6c"/>
<rect x="278.19" y="255.00" width="3" height="1.50" fill="#000"/>
<rect x="282.81" y="229.00" width="1" height="88.50" fill="#6c6c6c"/>
<rect x="281.81" y="256.00" width="3" height="13.75" fill="#000"/>
<rect x="286.44" y="263.10" width="1" height="45.40" fill="#6c6c6c"/>
<rect x="285.44" y="263.10" width="3" height="27.90" fill="#000"/>
<rect x="290.06" y="264.00" width="1" height="79.75" fill="#6c6c6c"/>
<rect x="289.06" y="277.25" width="3" height="13.35" fill="#000"/>
<rect x="293.68" y="255.00" width="1" height="36.50" fill="#6c6c6c"/>
<rect x="292.68" y="273.10" width="3" height="10.65" fill="#686b70"/>
<rect x="293.48" y="273.80" width="1.4" height="9.25" fill="#cdd0d7"/>
<rect x="297.31" y="262.50" width="1" height="56.90" fill="#6c6c6c"/>
<rect x="296.31" y="278.50" width="3" height="10.90" fill="#000"/>
<rect x="300.93" y="284.00" width="1" height="33.50" fill="#6c6c6c"/>
<rect x="299.93" y="284.00" width="3" height="22.90" fill="#000"/>
<rect x="304.56" y="295.60" width="1" height="35.00" fill="#6c6c6c"/>
<rect x="303.56" y="295.60" width="3" height="18.80" fill="#000"/>
<rect x="308.18" y="283.10" width="1" height="45.65" fill="#6c6c6c"/>
<rect x="307.18" y="304.00" width="3" height="1.00" fill="#000"/>
<rect x="311.81" y="287.75" width="1" height="19.75" fill="#6c6c6c"/>
<rect x="310.81" y="299.00" width="3" height="5.40" fill="#686b70"/>
<rect x="311.61" y="299.70" width="1.4" height="4.00" fill="#cdd0d7"/>
<rect x="315.43" y="301.90" width="1" height="29.60" fill="#6c6c6c"/>
<rect x="314.43" y="301.90" width="3" height="13.70" fill="#000"/>
<rect x="319.06" y="308.75" width="1" height="22.50" fill="#6c6c6c"/>
<rect x="318.06" y="308.75" width="3" height="13.15" fill="#000"/>
<rect x="322.68" y="310.00" width="1" height="25.00" fill="#6c6c6c"/>
<rect x="321.68" y="315.60" width="3" height="5.40" fill="#000"/>
<rect x="326.31" y="313.10" width="1" height="24.40" fill="#6c6c6c"/>
<rect x="325.31" y="318.50" width="3" height="8.00" fill="#000"/>
<rect x="329.93" y="314.00" width="1" height="28.50" fill="#6c6c6c"/>
<rect x="328.93" y="322.75" width="3" height="7.00" fill="#000"/>
<rect x="333.55" y="298.75" width="1" height="38.75" fill="#6c6c6c"/>
<rect x="332.55" y="318.50" width="3" height="7.75" fill="#686b70"/>
<rect x="333.35" y="319.20" width="1.4" height="6.35" fill="#cdd0d7"/>
<rect x="337.18" y="276.00" width="1" height="45.50" fill="#6c6c6c"/>
<rect x="336.18" y="301.25" width="3" height="20.25" fill="#686b70"/>
<rect x="336.98" y="301.95" width="1.4" height="18.85" fill="#cdd0d7"/>
<rect x="340.80" y="292.25" width="1" height="22.50" fill="#6c6c6c"/>
<rect x="339.80" y="306.50" width="3" height="4.75" fill="#686b70"/>
<rect x="340.60" y="307.20" width="1.4" height="3.35" fill="#cdd0d7"/>
<rect x="344.43" y="295.00" width="1" height="22.50" fill="#6c6c6c"/>
<rect x="343.43" y="306.50" width="3" height="2.00" fill="#686b70"/>
<rect x="344.23" y="307.20" width="1.4" height="0.60" fill="#cdd0d7"/>
<rect x="348.05" y="292.25" width="1" height="26.50" fill="#6c6c6c"/>
<rect x="347.05" y="302.25" width="3" height="5.25" fill="#686b70"/>
<rect x="347.85" y="302.95" width="1.4" height="3.85" fill="#cdd0d7"/>
<rect x="351.68" y="290.00" width="1" height="23.75" fill="#6c6c6c"/>
<rect x="350.68" y="303.70" width="3" height="1.00" fill="#000"/>
<rect x="355.30" y="304.40" width="1" height="27.85" fill="#6c6c6c"/>
<rect x="354.30" y="304.40" width="3" height="15.35" fill="#000"/>
<rect x="358.93" y="307.75" width="1" height="20.00" fill="#6c6c6c"/>
<rect x="357.93" y="311.90" width="3" height="6.85" fill="#000"/>
<rect x="362.55" y="304.00" width="1" height="19.50" fill="#6c6c6c"/>
<rect x="361.55" y="314.90" width="3" height="0.80" fill="#000"/>
<rect x="366.17" y="315.25" width="1" height="12.00" fill="#6c6c6c"/>
<rect x="365.17" y="315.25" width="3" height="7.25" fill="#000"/>
<rect x="369.80" y="319.00" width="1" height="21.60" fill="#6c6c6c"/>
<rect x="368.80" y="319.00" width="3" height="9.75" fill="#000"/>
<rect x="373.42" y="324.00" width="1" height="10.75" fill="#6c6c6c"/>
<rect x="372.42" y="324.00" width="3" height="6.25" fill="#000"/>
<rect x="377.05" y="327.25" width="1" height="10.85" fill="#6c6c6c"/>
<rect x="376.05" y="327.25" width="3" height="6.25" fill="#000"/>
<rect x="380.67" y="330.25" width="1" height="21.00" fill="#6c6c6c"/>
<rect x="379.67" y="330.25" width="3" height="13.50" fill="#000"/>
<rect x="384.30" y="337.00" width="1" height="34.75" fill="#6c6c6c"/>
<rect x="383.30" y="337.00" width="3" height="14.75" fill="#000"/>
<rect x="387.92" y="343.00" width="1" height="13.75" fill="#6c6c6c"/>
<rect x="386.92" y="344.90" width="3" height="5.60" fill="#000"/>
<rect x="391.55" y="330.50" width="1" height="26.25" fill="#6c6c6c"/>
<rect x="390.55" y="347.00" width="3" height="0.80" fill="#686b70"/>
<rect x="395.17" y="327.00" width="1" height="23.25" fill="#6c6c6c"/>
<rect x="394.17" y="339.25" width="3" height="8.15" fill="#686b70"/>
<rect x="394.97" y="339.95" width="1.4" height="6.75" fill="#cdd0d7"/>
<rect x="398.80" y="326.10" width="1" height="17.15" fill="#6c6c6c"/>
<rect x="397.80" y="333.00" width="3" height="10.25" fill="#686b70"/>
<rect x="398.60" y="333.70" width="1.4" height="8.85" fill="#cdd0d7"/>
<rect x="402.42" y="328.00" width="1" height="22.50" fill="#6c6c6c"/>
<rect x="401.42" y="337.40" width="3" height="0.80" fill="#686b70"/>
<rect x="406.04" y="329.25" width="1" height="27.50" fill="#6c6c6c"/>
<rect x="405.04" y="338.00" width="3" height="6.00" fill="#000"/>
<rect x="409.67" y="341.10" width="1" height="23.15" fill="#6c6c6c"/>
<rect x="408.67" y="341.10" width="3" height="16.65" fill="#000"/>
<rect x="413.29" y="341.10" width="1" height="22.50" fill="#6c6c6c"/>
<rect x="412.29" y="349.25" width="3" height="3.75" fill="#000"/>
<rect x="416.92" y="338.60" width="1" height="30.40" fill="#6c6c6c"/>
<rect x="415.92" y="351.10" width="3" height="3.80" fill="#000"/>
<rect x="420.54" y="353.00" width="1" height="26.50" fill="#6c6c6c"/>
<rect x="419.54" y="353.00" width="3" height="17.50" fill="#000"/>
<rect x="424.17" y="362.00" width="1" height="21.25" fill="#6c6c6c"/>
<rect x="423.17" y="362.00" width="3" height="14.10" fill="#000"/>
<rect x="427.79" y="369.00" width="1" height="16.25" fill="#6c6c6c"/>
<rect x="426.79" y="369.00" width="3" height="11.75" fill="#000"/>
<rect x="431.42" y="363.00" width="1" height="22.50" fill="#6c6c6c"/>
<rect x="430.42" y="374.10" width="3" height="0.80" fill="#686b70"/>
<rect x="435.04" y="368.25" width="1" height="24.00" fill="#6c6c6c"/>
<rect x="434.04" y="374.90" width="3" height="2.85" fill="#000"/>
<rect x="438.66" y="371.50" width="1" height="13.00" fill="#6c6c6c"/>
<rect x="437.66" y="376.10" width="3" height="3.80" fill="#000"/>
<rect x="442.29" y="378.25" width="1" height="23.25" fill="#6c6c6c"/>
<rect x="441.29" y="378.25" width="3" height="13.65" fill="#000"/>
<rect x="445.91" y="385.25" width="1" height="27.25" fill="#6c6c6c"/>
<rect x="444.91" y="385.25" width="3" height="19.15" fill="#000"/>
<rect x="449.54" y="394.40" width="1" height="30.85" fill="#6c6c6c"/>
<rect x="448.54" y="394.40" width="3" height="22.50" fill="#000"/>
<rect x="453.16" y="405.60" width="1" height="29.15" fill="#6c6c6c"/>
<rect x="452.16" y="405.60" width="3" height="21.30" fill="#000"/>
<rect x="456.79" y="416.25" width="1" height="10.65" fill="#6c6c6c"/>
<rect x="455.79" y="416.25" width="3" height="8.50" fill="#000"/>
<rect x="460.41" y="418.10" width="1" height="9.40" fill="#6c6c6c"/>
<rect x="459.41" y="420.60" width="3" height="2.15" fill="#000"/>
<rect x="464.04" y="417.25" width="1" height="10.00" fill="#6c6c6c"/>
<rect x="463.04" y="421.10" width="3" height="0.80" fill="#000"/>
<rect x="467.66" y="416.90" width="1" height="8.35" fill="#6c6c6c"/>
<rect x="466.66" y="420.60" width="3" height="0.80" fill="#686b70"/>
<rect x="471.29" y="421.00" width="1" height="7.10" fill="#6c6c6c"/>
<rect x="470.29" y="421.00" width="3" height="3.75" fill="#000"/>
<rect x="474.91" y="423.10" width="1" height="7.50" fill="#6c6c6c"/>
<rect x="473.91" y="423.10" width="3" height="4.65" fill="#000"/>
<rect x="478.53" y="425.60" width="1" height="10.00" fill="#6c6c6c"/>
<rect x="477.53" y="425.60" width="3" height="5.65" fill="#000"/>
<rect x="482.16" y="428.50" width="1" height="4.00" fill="#6c6c6c"/>
<rect x="481.16" y="428.50" width="3" height="2.10" fill="#000"/>
<rect x="485.78" y="425.60" width="1" height="9.15" fill="#6c6c6c"/>
<rect x="484.78" y="429.60" width="3" height="0.80" fill="#000"/>
<rect x="489.41" y="430.60" width="1" height="3.15" fill="#6c6c6c"/>
<rect x="488.41" y="430.60" width="3" height="2.15" fill="#000"/>
<rect x="493.03" y="431.50" width="1" height="25.40" fill="#6c6c6c"/>
<rect x="492.03" y="431.50" width="3" height="12.00" fill="#000"/>
<rect x="496.66" y="437.75" width="1" height="12.85" fill="#6c6c6c"/>
<rect x="495.66" y="437.75" width="3" height="10.75" fill="#000"/>
<rect x="500.28" y="443.10" width="1" height="11.30" fill="#6c6c6c"/>
<rect x="499.28" y="443.10" width="3" height="5.40" fill="#000"/>
<rect x="503.91" y="436.90" width="1" height="13.70" fill="#6c6c6c"/>
<rect x="502.91" y="443.50" width="3" height="2.10" fill="#686b70"/>
<rect x="503.71" y="444.20" width="1.4" height="0.70" fill="#cdd0d7"/>
<rect x="507.53" y="438.10" width="1" height="13.15" fill="#6c6c6c"/>
<rect x="506.53" y="444.00" width="3" height="0.80" fill="#686b70"/>
<rect x="511.15" y="441.25" width="1" height="10.25" fill="#6c6c6c"/>
<rect x="510.15" y="444.75" width="3" height="2.15" fill="#000"/>
<rect x="514.78" y="439.75" width="1" height="5.85" fill="#6c6c6c"/>
<rect x="513.78" y="443.10" width="3" height="2.50" fill="#686b70"/>
<rect x="514.58" y="443.80" width="1.4" height="1.10" fill="#cdd0d7"/>
<rect x="518.40" y="441.90" width="1" height="3.70" fill="#6c6c6c"/>
<rect x="517.40" y="443.40" width="3" height="0.80" fill="#000"/>
<rect x="522.03" y="443.10" width="1" height="3.15" fill="#6c6c6c"/>
<rect x="521.03" y="444.00" width="3" height="0.80" fill="#000"/>
<rect x="525.65" y="443.10" width="1" height="3.15" fill="#6c6c6c"/>
<rect x="524.65" y="444.00" width="3" height="0.80" fill="#000"/>
<rect x="529.28" y="444.75" width="1" height="12.15" fill="#6c6c6c"/>
<rect x="528.28" y="444.75" width="3" height="4.00" fill="#000"/>
<rect x="532.90" y="446.90" width="1" height="4.10" fill="#6c6c6c"/>
<rect x="531.90" y="446.90" width="3" height="2.50" fill="#000"/>
<rect x="536.53" y="447.75" width="1" height="3.50" fill="#6c6c6c"/>
<rect x="535.53" y="447.75" width="3" height="2.00" fill="#000"/>
<rect x="540.15" y="446.90" width="1" height="3.10" fill="#6c6c6c"/>
<rect x="539.15" y="448.10" width="3" height="0.80" fill="#000"/>
<rect x="543.77" y="446.25" width="1" height="4.35" fill="#6c6c6c"/>
<rect x="542.77" y="448.10" width="3" height="0.80" fill="#000"/>
<rect x="547.40" y="445.00" width="1" height="5.00" fill="#6c6c6c"/>
<rect x="546.40" y="447.70" width="3" height="0.80" fill="#000"/>
<rect x="551.02" y="444.75" width="1" height="3.35" fill="#6c6c6c"/>
<rect x="550.02" y="446.00" width="3" height="2.10" fill="#686b70"/>
<rect x="550.82" y="446.70" width="1.4" height="0.70" fill="#cdd0d7"/>
<rect x="554.65" y="445.00" width="1" height="5.60" fill="#6c6c6c"/>
<rect x="553.65" y="446.50" width="3" height="0.80" fill="#686b70"/>
<rect x="558.27" y="447.75" width="1" height="5.00" fill="#6c6c6c"/>
<rect x="557.27" y="447.75" width="3" height="3.25" fill="#000"/>
<rect x="561.90" y="449.40" width="1" height="6.85" fill="#6c6c6c"/>
<rect x="560.90" y="449.40" width="3" height="4.10" fill="#000"/>
<rect x="565.52" y="451.00" width="1" height="9.25" fill="#6c6c6c"/>
<rect x="564.52" y="451.00" width="3" height="6.75" fill="#000"/>
<rect x="569.15" y="454.00" width="1" height="17.00" fill="#6c6c6c"/>
<rect x="568.15" y="454.00" width="3" height="7.25" fill="#000"/>
<rect x="572.77" y="455.00" width="1" height="11.00" fill="#6c6c6c"/>
<rect x="571.77" y="458.10" width="3" height="0.80" fill="#000"/>
<rect x="576.40" y="456.00" width="1" height="5.90" fill="#6c6c6c"/>
<rect x="575.40" y="458.10" width="3" height="0.80" fill="#000"/>
<rect x="580.02" y="458.75" width="1" height="5.65" fill="#6c6c6c"/>
<rect x="579.02" y="458.75" width="3" height="2.50" fill="#000"/>
<rect x="583.64" y="459.00" width="1" height="2.90" fill="#6c6c6c"/>
<rect x="582.64" y="459.90" width="3" height="0.80" fill="#000"/>
<rect x="587.27" y="453.75" width="1" height="12.25" fill="#6c6c6c"/>
<rect x="586.27" y="459.90" width="3" height="0.80" fill="#000"/>
<rect x="590.89" y="460.25" width="1" height="5.35" fill="#6c6c6c"/>
<rect x="589.89" y="460.25" width="3" height="3.50" fill="#000"/>
<rect x="594.52" y="461.90" width="1" height="7.50" fill="#6c6c6c"/>
<rect x="593.52" y="461.90" width="3" height="5.00" fill="#000"/>
<rect x="598.14" y="461.90" width="1" height="10.35" fill="#6c6c6c"/>
<rect x="597.14" y="463.75" width="3" height="4.35" fill="#000"/>
<rect x="601.77" y="466.00" width="1" height="14.00" fill="#6c6c6c"/>
<rect x="600.77" y="466.00" width="3" height="9.60" fill="#000"/>
<rect x="605.39" y="470.60" width="1" height="15.65" fill="#6c6c6c"/>
<rect x="604.39" y="470.60" width="3" height="9.40" fill="#000"/>
<rect x="609.02" y="474.40" width="1" height="3.10" fill="#6c6c6c"/>
<rect x="608.02" y="475.60" width="3" height="0.80" fill="#000"/>
<rect x="612.64" y="475.25" width="1" height="2.25" fill="#6c6c6c"/>
<rect x="611.64" y="476.10" width="3" height="0.80" fill="#000"/>
<rect x="615.26" y="476.50" width="3" height="2.00" fill="#000"/>
<rect x="619.89" y="477.50" width="1" height="7.75" fill="#6c6c6c"/>
<rect x="618.89" y="477.50" width="3" height="5.00" fill="#000"/>
<rect x="623.51" y="480.00" width="1" height="6.00" fill="#6c6c6c"/>
<rect x="622.51" y="480.00" width="3" height="3.10" fill="#000"/>
<rect x="627.14" y="474.00" width="1" height="8.50" fill="#6c6c6c"/>
<rect x="626.14" y="479.40" width="3" height="2.10" fill="#686b70"/>
<rect x="626.94" y="480.10" width="1.4" height="0.70" fill="#cdd0d7"/>
<rect x="630.76" y="475.60" width="1" height="8.40" fill="#6c6c6c"/>
<rect x="629.76" y="479.60" width="3" height="0.80" fill="#000"/>
<rect x="634.39" y="478.10" width="1" height="6.30" fill="#6c6c6c"/>
<rect x="633.39" y="479.90" width="3" height="0.80" fill="#686b70"/>
<rect x="638.01" y="479.75" width="1" height="5.25" fill="#6c6c6c"/>
<rect x="637.01" y="479.75" width="3" height="2.75" fill="#000"/>
<rect x="641.64" y="481.25" width="1" height="6.25" fill="#6c6c6c"/>
<rect x="640.64" y="481.25" width="3" height="3.50" fill="#000"/>
<rect x="644.26" y="483.10" width="3" height="1.30" fill="#000"/>
<rect x="647.89" y="483.75" width="3" height="2.25" fill="#000"/>
<rect x="652.51" y="485.00" width="1" height="9.00" fill="#6c6c6c"/>
<rect x="651.51" y="485.00" width="3" height="4.75" fill="#000"/>
<rect x="655.13" y="487.25" width="3" height="3.35" fill="#000"/>
<rect x="659.76" y="488.30" width="1" height="2.00" fill="#6c6c6c"/>
<rect x="658.76" y="489.00" width="3" height="0.80" fill="#000"/>
<rect x="663.38" y="487.50" width="1" height="2.75" fill="#6c6c6c"/>
<rect x="662.38" y="488.70" width="3" height="0.80" fill="#000"/>
<rect x="667.01" y="488.00" width="1" height="2.00" fill="#6c6c6c"/>
<rect x="666.01" y="488.60" width="3" height="0.80" fill="#000"/>
<rect x="670.63" y="488.50" width="1" height="2.00" fill="#6c6c6c"/>
<rect x="669.63" y="489.20" width="3" height="0.80" fill="#000"/>
<rect x="674.26" y="486.00" width="1" height="4.60" fill="#6c6c6c"/>
<rect x="673.26" y="488.70" width="3" height="0.80" fill="#000"/>
<rect x="677.88" y="486.00" width="1" height="3.00" fill="#6c6c6c"/>
<rect x="676.88" y="486.90" width="3" height="2.10" fill="#686b70"/>
<rect x="677.68" y="487.60" width="1.4" height="0.70" fill="#cdd0d7"/>
<rect x="681.51" y="486.50" width="1" height="5.00" fill="#6c6c6c"/>
<rect x="680.51" y="487.90" width="3" height="1.50" fill="#000"/>
<rect x="684.13" y="488.75" width="3" height="2.25" fill="#000"/>
<rect x="688.75" y="489.75" width="1" height="4.25" fill="#6c6c6c"/>
<rect x="687.75" y="489.75" width="3" height="2.15" fill="#000"/>
<rect x="691.38" y="490.60" width="3" height="1.30" fill="#000"/>
<rect x="696.00" y="489.75" width="1" height="5.00" fill="#6c6c6c"/>
<rect x="695.00" y="490.90" width="3" height="0.80" fill="#000"/>
<rect x="699.63" y="480.00" width="1" height="11.25" fill="#6c6c6c"/>
<rect x="698.63" y="486.25" width="3" height="5.00" fill="#686b70"/>
<rect x="699.43" y="486.95" width="1.4" height="3.60" fill="#cdd0d7"/>
<rect x="703.25" y="479.00" width="1" height="9.75" fill="#6c6c6c"/>
<rect x="702.25" y="481.90" width="3" height="6.85" fill="#686b70"/>
<rect x="703.05" y="482.60" width="1.4" height="5.45" fill="#cdd0d7"/>
<rect x="706.88" y="480.60" width="1" height="5.00" fill="#6c6c6c"/>
<rect x="705.88" y="482.25" width="3" height="3.35" fill="#686b70"/>
<rect x="706.68" y="482.95" width="1.4" height="1.95" fill="#cdd0d7"/>
<rect x="710.50" y="476.00" width="1" height="7.75" fill="#6c6c6c"/>
<rect x="709.50" y="480.25" width="3" height="3.50" fill="#686b70"/>
<rect x="710.30" y="480.95" width="1.4" height="2.10" fill="#cdd0d7"/>
<rect x="714.13" y="466.00" width="1" height="21.75" fill="#6c6c6c"/>
<rect x="713.13" y="474.75" width="3" height="6.75" fill="#686b70"/>
<rect x="713.93" y="475.45" width="1.4" height="5.35" fill="#cdd0d7"/>
<rect x="717.75" y="461.25" width="1" height="17.35" fill="#6c6c6c"/>
<rect x="716.75" y="465.25" width="3" height="13.35" fill="#686b70"/>
<rect x="717.55" y="465.95" width="1.4" height="11.95" fill="#cdd0d7"/>
<rect x="721.38" y="463.50" width="1" height="8.00" fill="#6c6c6c"/>
<rect x="720.38" y="468.50" width="3" height="3.00" fill="#686b70"/>
<rect x="721.18" y="469.20" width="1.4" height="1.60" fill="#cdd0d7"/>
<rect x="725.00" y="470.00" width="1" height="9.40" fill="#6c6c6c"/>
<rect x="724.00" y="470.00" width="3" height="5.00" fill="#000"/>
<rect x="728.62" y="472.75" width="1" height="8.25" fill="#6c6c6c"/>
<rect x="727.62" y="472.75" width="3" height="6.65" fill="#000"/>
<rect x="731.25" y="476.25" width="3" height="3.50" fill="#000"/>
<rect x="734.87" y="477.75" width="3" height="2.85" fill="#000"/>
<rect x="738.50" y="479.40" width="3" height="3.10" fill="#000"/>
<rect x="743.12" y="481.00" width="1" height="4.60" fill="#6c6c6c"/>
<rect x="742.12" y="481.00" width="3" height="2.50" fill="#000"/>
<rect x="746.75" y="472.25" width="1" height="10.25" fill="#6c6c6c"/>
<rect x="745.75" y="478.10" width="3" height="4.40" fill="#686b70"/>
<rect x="746.55" y="478.80" width="1.4" height="3.00" fill="#cdd0d7"/>
<rect x="750.37" y="471.25" width="1" height="9.35" fill="#6c6c6c"/>
<rect x="749.37" y="476.00" width="3" height="4.60" fill="#686b70"/>
<rect x="750.17" y="476.70" width="1.4" height="3.20" fill="#cdd0d7"/>
<rect x="754.00" y="475.00" width="1" height="5.00" fill="#6c6c6c"/>
<rect x="753.00" y="477.40" width="3" height="0.80" fill="#000"/>
<rect x="757.62" y="475.60" width="1" height="3.40" fill="#6c6c6c"/>
<rect x="756.62" y="477.10" width="3" height="0.80" fill="#000"/>
<rect x="761.25" y="471.90" width="1" height="6.85" fill="#6c6c6c"/>
<rect x="760.25" y="476.90" width="3" height="0.80" fill="#000"/>
<rect x="764.87" y="474.00" width="1" height="11.60" fill="#6c6c6c"/>
<rect x="763.87" y="476.90" width="3" height="2.10" fill="#000"/>
<rect x="768.49" y="474.40" width="1" height="19.10" fill="#6c6c6c"/>
<rect x="767.49" y="477.75" width="3" height="3.75" fill="#000"/>
<rect x="772.12" y="470.60" width="1" height="9.15" fill="#6c6c6c"/>
<rect x="771.12" y="475.00" width="3" height="4.75" fill="#686b70"/>
<rect x="771.92" y="475.70" width="1.4" height="3.35" fill="#cdd0d7"/>
<rect x="775.74" y="457.50" width="1" height="20.00" fill="#6c6c6c"/>
<rect x="774.74" y="466.50" width="3" height="11.00" fill="#686b70"/>
<rect x="775.54" y="467.20" width="1.4" height="9.60" fill="#cdd0d7"/>
<rect x="779.37" y="463.10" width="1" height="14.65" fill="#6c6c6c"/>
<rect x="778.37" y="470.25" width="3" height="2.00" fill="#686b70"/>
<rect x="779.17" y="470.95" width="1.4" height="0.60" fill="#cdd0d7"/>
<rect x="782.99" y="471.25" width="1" height="12.50" fill="#6c6c6c"/>
<rect x="781.99" y="471.25" width="3" height="4.35" fill="#000"/>
<rect x="786.62" y="459.75" width="1" height="13.75" fill="#6c6c6c"/>
<rect x="785.62" y="469.40" width="3" height="4.10" fill="#686b70"/>
<rect x="786.42" y="470.10" width="1.4" height="2.70" fill="#cdd0d7"/>
<rect x="790.24" y="468.50" width="1" height="5.00" fill="#6c6c6c"/>
<rect x="789.24" y="470.90" width="3" height="0.80" fill="#000"/>
<rect x="793.87" y="471.25" width="1" height="8.50" fill="#6c6c6c"/>
<rect x="792.87" y="471.25" width="3" height="5.65" fill="#000"/>
<rect x="797.49" y="474.00" width="1" height="8.75" fill="#6c6c6c"/>
<rect x="796.49" y="474.00" width="3" height="6.60" fill="#000"/>
<rect x="800.11" y="477.25" width="3" height="6.50" fill="#000"/>
<rect x="804.74" y="480.25" width="1" height="11.25" fill="#6c6c6c"/>
<rect x="803.74" y="480.25" width="3" height="7.50" fill="#000"/>
<rect x="808.36" y="484.00" width="1" height="11.60" fill="#6c6c6c"/>
<rect x="807.36" y="484.00" width="3" height="7.90" fill="#000"/>
<rect x="811.99" y="488.10" width="1" height="4.15" fill="#6c6c6c"/>
<rect x="810.99" y="488.10" width="3" height="2.50" fill="#000"/>
<rect x="815.61" y="487.50" width="1" height="3.00" fill="#6c6c6c"/>
<rect x="814.61" y="488.60" width="3" height="0.80" fill="#686b70"/>
<rect x="819.24" y="482.25" width="1" height="7.15" fill="#6c6c6c"/>
<rect x="818.24" y="486.25" width="3" height="3.15" fill="#686b70"/>
<rect x="819.04" y="486.95" width="1.4" height="1.75" fill="#cdd0d7"/>
<rect x="822.86" y="483.10" width="1" height="6.30" fill="#6c6c6c"/>
<rect x="821.86" y="486.50" width="3" height="0.80" fill="#000"/>
<rect x="826.49" y="487.25" width="1" height="2.75" fill="#6c6c6c"/>
<rect x="825.49" y="487.25" width="3" height="1.25" fill="#000"/>
<rect x="830.11" y="486.25" width="1" height="3.15" fill="#6c6c6c"/>
<rect x="829.11" y="487.40" width="3" height="0.80" fill="#000"/>
<rect x="833.74" y="483.50" width="1" height="5.90" fill="#6c6c6c"/>
<rect x="832.74" y="486.00" width="3" height="2.10" fill="#686b70"/>
<rect x="833.53" y="486.70" width="1.4" height="0.70" fill="#cdd0d7"/>
<rect x="837.36" y="480.60" width="1" height="6.30" fill="#6c6c6c"/>
<rect x="836.36" y="482.50" width="3" height="4.40" fill="#686b70"/>
<rect x="837.16" y="483.20" width="1.4" height="3.00" fill="#cdd0d7"/>
<rect x="840.98" y="482.25" width="1" height="24.65" fill="#6c6c6c"/>
<rect x="839.98" y="485.25" width="3" height="4.75" fill="#000"/>
<rect x="843.61" y="487.75" width="3" height="1.25" fill="#000"/>
<rect x="847.23" y="488.10" width="3" height="1.65" fill="#000"/>
<rect x="851.86" y="485.60" width="1" height="4.40" fill="#6c6c6c"/>
<rect x="850.86" y="488.10" width="3" height="0.80" fill="#000"/>
<rect x="855.48" y="484.75" width="1" height="3.35" fill="#6c6c6c"/>
<rect x="854.48" y="486.25" width="3" height="1.85" fill="#686b70"/>
<rect x="855.28" y="486.95" width="1.4" height="0.45" fill="#cdd0d7"/>
<rect x="859.11" y="484.00" width="1" height="3.50" fill="#6c6c6c"/>
<rect x="858.11" y="485.25" width="3" height="2.25" fill="#686b70"/>
<rect x="858.91" y="485.95" width="1.4" height="0.85" fill="#cdd0d7"/>
<rect x="862.73" y="480.00" width="1" height="6.90" fill="#6c6c6c"/>
<rect x="861.73" y="484.00" width="3" height="2.90" fill="#686b70"/>
<rect x="862.53" y="484.70" width="1.4" height="1.50" fill="#cdd0d7"/>
<rect x="866.36" y="478.75" width="1" height="6.25" fill="#6c6c6c"/>
<rect x="865.36" y="480.60" width="3" height="4.40" fill="#686b70"/>
<rect x="866.16" y="481.30" width="1.4" height="3.00" fill="#cdd0d7"/>
<rect x="869.98" y="478.10" width="1" height="5.00" fill="#6c6c6c"/>
<rect x="868.98" y="480.60" width="3" height="2.50" fill="#686b70"/>
<rect x="869.78" y="481.30" width="1.4" height="1.10" fill="#cdd0d7"/>
<rect x="872.60" y="481.90" width="3" height="1.60" fill="#000"/>
<rect x="877.23" y="483.10" width="1" height="5.65" fill="#6c6c6c"/>
<rect x="876.23" y="483.10" width="3" height="4.15" fill="#000"/>
<rect x="880.85" y="485.25" width="1" height="4.75" fill="#6c6c6c"/>
<rect x="879.85" y="485.25" width="3" height="3.50" fill="#000"/>
<rect x="884.48" y="487.25" width="1" height="2.75" fill="#6c6c6c"/>
<rect x="883.48" y="487.25" width="3" height="2.15" fill="#000"/>
<rect x="888.10" y="485.60" width="1" height="4.40" fill="#6c6c6c"/>
<rect x="887.10" y="488.00" width="3" height="0.80" fill="#000"/>
<rect x="891.73" y="487.50" width="1" height="1.80" fill="#6c6c6c"/>
<rect x="890.73" y="488.00" width="3" height="0.80" fill="#000"/>
<rect x="895.35" y="488.50" width="1" height="2.10" fill="#6c6c6c"/>
<rect x="894.35" y="488.50" width="3" height="1.25" fill="#000"/>
<rect x="898.98" y="489.40" width="1" height="3.70" fill="#6c6c6c"/>
<rect x="897.98" y="489.40" width="3" height="2.10" fill="#000"/>
<rect x="901.60" y="490.25" width="3" height="2.00" fill="#000"/>
<rect x="905.23" y="491.50" width="3" height="0.80" fill="#000"/>
<rect x="909.85" y="486.25" width="1" height="6.85" fill="#6c6c6c"/>
<rect x="908.85" y="490.20" width="3" height="0.80" fill="#686b70"/>
<rect x="913.47" y="486.90" width="1" height="3.35" fill="#6c6c6c"/>
<rect x="912.47" y="488.10" width="3" height="2.15" fill="#686b70"/>
<rect x="913.27" y="488.80" width="1.4" height="0.75" fill="#cdd0d7"/>
<rect x="917.10" y="484.40" width="1" height="5.35" fill="#6c6c6c"/>
<rect x="916.10" y="486.50" width="3" height="3.25" fill="#686b70"/>
<rect x="916.90" y="487.20" width="1.4" height="1.85" fill="#cdd0d7"/>
<rect x="920.72" y="481.90" width="1" height="6.20" fill="#6c6c6c"/>
<rect x="919.72" y="484.00" width="3" height="4.10" fill="#686b70"/>
<rect x="920.52" y="484.70" width="1.4" height="2.70" fill="#cdd0d7"/>
<rect x="923.35" y="484.00" width="3" height="2.25" fill="#686b70"/>
<rect x="924.15" y="484.70" width="1.4" height="0.85" fill="#cdd0d7"/>
<rect x="927.97" y="476.25" width="1" height="9.00" fill="#6c6c6c"/>
<rect x="926.97" y="480.60" width="3" height="4.65" fill="#686b70"/>
<rect x="927.77" y="481.30" width="1.4" height="3.25" fill="#cdd0d7"/>
<rect x="931.60" y="415.60" width="1" height="66.90" fill="#6c6c6c"/>
<rect x="930.60" y="448.10" width="3" height="34.40" fill="#686b70"/>
<rect x="931.40" y="448.80" width="1.4" height="33.00" fill="#cdd0d7"/>
<rect x="935.22" y="331.25" width="1" height="134.00" fill="#6c6c6c"/>
<rect x="934.22" y="390.25" width="3" height="75.00" fill="#686b70"/>
<rect x="935.02" y="390.95" width="1.4" height="73.60" fill="#cdd0d7"/>
<rect x="938.85" y="342.25" width="1" height="85.25" fill="#6c6c6c"/>
<rect x="937.85" y="366.25" width="3" height="61.25" fill="#686b70"/>
<rect x="938.65" y="366.95" width="1.4" height="59.85" fill="#cdd0d7"/>
<rect x="942.47" y="299.40" width="1" height="97.10" fill="#6c6c6c"/>
<rect x="941.47" y="339.40" width="3" height="57.10" fill="#686b70"/>
<rect x="942.27" y="340.10" width="1.4" height="55.70" fill="#cdd0d7"/>
<rect x="946.09" y="236.25" width="1" height="132.25" fill="#6c6c6c"/>
<rect x="945.09" y="285.00" width="3" height="83.50" fill="#686b70"/>
<rect x="945.89" y="285.70" width="1.4" height="82.10" fill="#cdd0d7"/>
</g>
<circle cx="9.05" cy="5.3" r="3.0" fill="#f7931a"/>
<circle cx="9.0" cy="5.2" r="1.0" fill="#fbd6a8"/>
<circle cx="6.0" cy="8.25" r="3.6" fill="#fff"/>
<circle cx="6.0" cy="8.25" r="3.0" fill="#ecb244"/>
<rect x="5.0" y="6.9" width="2.0" height="1.0" fill="#3a3320"/>
<rect x="5.0" y="8.6" width="2.0" height="1.0" fill="#3a3320"/>
<text x="14" y="10" font-size="8.4" fill="#b6b9c3" textLength="29.0" lengthAdjust="spacingAndGlyphs">ZECBTC</text>
<text x="50" y="10" font-size="8.4" fill="#b6b9c3" textLength="10.6" lengthAdjust="spacingAndGlyphs">1W</text>
<text x="67.2" y="10" font-size="8.4" fill="#b6b9c3" textLength="27.3" lengthAdjust="spacingAndGlyphs">Binance</text>
<text x="101.3" y="10" font-size="8.4" fill="#b6b9c3" textLength="36.5" lengthAdjust="spacingAndGlyphs">HeikinAshi</text>
<rect x="45.85" y="8.0" width="1.3" height="0.9" fill="#5a5d66"/>
<rect x="63.35" y="8.0" width="1.3" height="0.9" fill="#5a5d66"/>
<rect x="97.35" y="8.0" width="1.3" height="0.9" fill="#5a5d66"/>
<circle cx="146.3" cy="7.1" r="4.0" fill="#d9eeea"/>
<circle cx="146.3" cy="7.1" r="1.7" fill="#2f9e8e"/>
<text x="3.2" y="20.8" font-size="6.6" fill="#c3c5ce" textLength="8.6" lengthAdjust="spacingAndGlyphs">Vol</text>
<rect x="14.2" y="18.3" width="1.2" height="0.6" fill="#c3c5ce"/>
<text x="18" y="20.8" font-size="6.6" fill="#c3c5ce" textLength="11.6" lengthAdjust="spacingAndGlyphs">ZEC</text>
<text x="34.5" y="20.8" font-size="6.6" fill="#74b9af" textLength="26.1" lengthAdjust="spacingAndGlyphs">225,37 K</text>
<rect x="2.5" y="25.4" width="14.1" height="10.2" rx="1.4" fill="#fff" stroke="#dedee2" stroke-width="0.7"/>
<path d="M7.4 31.5 L9.4 30.1 L11.2 31.5" fill="none" stroke="#2a2a2e" stroke-width="0.9"/>
<rect x="986.8" y="1.4" width="40" height="12" rx="1.3" fill="#fff" stroke="#e6e7eb" stroke-width="0.6"/>
<text x="988.7" y="10" font-size="6.9" fill="#2a2e39" textLength="11" lengthAdjust="spacingAndGlyphs">BTC</text>
<path d="M1019.7 7.1 L1021.3 8.3 L1022.9 7.1 Z" fill="#2a2e39"/>
<text x="989" y="40.60" font-size="6.5" fill="#bfc1cb" textLength="29.8" lengthAdjust="spacingAndGlyphs">0,0070000</text>
<text x="989" y="74.55" font-size="6.5" fill="#bfc1cb" textLength="29.8" lengthAdjust="spacingAndGlyphs">0,0065000</text>
<text x="989" y="108.50" font-size="6.5" fill="#bfc1cb" textLength="29.8" lengthAdjust="spacingAndGlyphs">0,0060000</text>
<text x="989" y="142.45" font-size="6.5" fill="#bfc1cb" textLength="29.8" lengthAdjust="spacingAndGlyphs">0,0055000</text>
<text x="989" y="176.40" font-size="6.5" fill="#bfc1cb" textLength="29.8" lengthAdjust="spacingAndGlyphs">0,0050000</text>
<text x="989" y="210.35" font-size="6.5" fill="#bfc1cb" textLength="29.8" lengthAdjust="spacingAndGlyphs">0,0045000</text>
<text x="989" y="244.30" font-size="6.5" fill="#bfc1cb" textLength="29.8" lengthAdjust="spacingAndGlyphs">0,0040000</text>
<text x="989" y="278.25" font-size="6.5" fill="#bfc1cb" textLength="29.8" lengthAdjust="spacingAndGlyphs">0,0035000</text>
<text x="989" y="312.20" font-size="6.5" fill="#bfc1cb" textLength="29.8" lengthAdjust="spacingAndGlyphs">0,0030000</text>
<text x="989" y="346.15" font-size="6.5" fill="#bfc1cb" textLength="29.8" lengthAdjust="spacingAndGlyphs">0,0025000</text>
<text x="989" y="380.10" font-size="6.5" fill="#bfc1cb" textLength="29.8" lengthAdjust="spacingAndGlyphs">0,0020000</text>
<text x="989" y="414.05" font-size="6.5" fill="#bfc1cb" textLength="29.8" lengthAdjust="spacingAndGlyphs">0,0015000</text>
<text x="989" y="448.00" font-size="6.5" fill="#bfc1cb" textLength="29.8" lengthAdjust="spacingAndGlyphs">0,0010000</text>
<text x="989" y="481.95" font-size="6.5" fill="#bfc1cb" textLength="29.8" lengthAdjust="spacingAndGlyphs">0,0005000</text>
<text x="989.1" y="515.90" font-size="6.5" fill="#bfc1cb" textLength="33.4" lengthAdjust="spacingAndGlyphs">−0,0000000</text>
<text x="989.1" y="549.85" font-size="6.5" fill="#bfc1cb" textLength="33.4" lengthAdjust="spacingAndGlyphs">−0,0005000</text>
<rect x="984.9" y="250.7" width="37" height="8" rx="0.6" fill="#000"/>
<text x="989" y="257.05" font-size="6.5" fill="#fff" textLength="29.8" lengthAdjust="spacingAndGlyphs">0,0038167</text>
<rect x="984.9" y="281.5" width="37" height="14.3" rx="0.6" fill="#c9cdd8"/>
<text x="989" y="287.6" font-size="6.5" fill="#131722" textLength="29.8" lengthAdjust="spacingAndGlyphs">0,0033641</text>
<text x="989" y="293.9" font-size="6.3" fill="#3c404b" textLength="15" lengthAdjust="spacingAndGlyphs">1d 7h</text>
<rect x="984.9" y="525.6" width="30.1" height="8.1" rx="0.6" fill="#4f9d91"/>
<text x="989" y="532" font-size="6.5" fill="#f2f7f6" textLength="23.5" lengthAdjust="spacingAndGlyphs">225,37 K</text>
<text x="4.22" y="560.9" font-size="6.5" fill="#c9cbd3" text-anchor="middle">Nov</text>
<text x="36.84" y="560.9" font-size="6.4" font-weight="bold" fill="#b4b7c0" text-anchor="middle" textLength="14.5" lengthAdjust="spacingAndGlyphs">2021</text>
<text x="65.84" y="560.9" font-size="6.5" fill="#c9cbd3" text-anchor="middle">Mrz</text>
<text x="98.46" y="560.9" font-size="6.5" fill="#c9cbd3" text-anchor="middle">Mai</text>
<text x="131.08" y="560.9" font-size="6.5" fill="#c9cbd3" text-anchor="middle">Jul</text>
<text x="163.70" y="560.9" font-size="6.5" fill="#c9cbd3" text-anchor="middle">Sep</text>
<text x="192.70" y="560.9" font-size="6.5" fill="#c9cbd3" text-anchor="middle">Nov</text>
<text x="225.32" y="560.9" font-size="6.4" font-weight="bold" fill="#b4b7c0" text-anchor="middle" textLength="14.5" lengthAdjust="spacingAndGlyphs">2022</text>
<text x="257.94" y="560.9" font-size="6.5" fill="#c9cbd3" text-anchor="middle">Mrz</text>
<text x="286.94" y="560.9" font-size="6.5" fill="#c9cbd3" text-anchor="middle">Mai</text>
<text x="319.56" y="560.9" font-size="6.5" fill="#c9cbd3" text-anchor="middle">Jul</text>
<text x="352.18" y="560.9" font-size="6.5" fill="#c9cbd3" text-anchor="middle">Sep</text>
<text x="384.80" y="560.9" font-size="6.5" fill="#c9cbd3" text-anchor="middle">Nov</text>
<text x="413.79" y="560.9" font-size="6.4" font-weight="bold" fill="#b4b7c0" text-anchor="middle" textLength="14.5" lengthAdjust="spacingAndGlyphs">2023</text>
<text x="446.41" y="560.9" font-size="6.5" fill="#c9cbd3" text-anchor="middle">Mrz</text>
<text x="475.41" y="560.9" font-size="6.5" fill="#c9cbd3" text-anchor="middle">Mai</text>
<text x="508.03" y="560.9" font-size="6.5" fill="#c9cbd3" text-anchor="middle">Jul</text>
<text x="540.65" y="560.9" font-size="6.5" fill="#c9cbd3" text-anchor="middle">Sep</text>
<text x="573.27" y="560.9" font-size="6.5" fill="#c9cbd3" text-anchor="middle">Nov</text>
<text x="602.27" y="560.9" font-size="6.4" font-weight="bold" fill="#b4b7c0" text-anchor="middle" textLength="14.5" lengthAdjust="spacingAndGlyphs">2024</text>
<text x="634.89" y="560.9" font-size="6.5" fill="#c9cbd3" text-anchor="middle">Mrz</text>
<text x="667.51" y="560.9" font-size="6.5" fill="#c9cbd3" text-anchor="middle">Mai</text>
<text x="696.50" y="560.9" font-size="6.5" fill="#c9cbd3" text-anchor="middle">Jul</text>
<text x="729.12" y="560.9" font-size="6.5" fill="#c9cbd3" text-anchor="middle">Sep</text>
<text x="761.75" y="560.9" font-size="6.5" fill="#c9cbd3" text-anchor="middle">Nov</text>
<text x="794.37" y="560.9" font-size="6.4" font-weight="bold" fill="#b4b7c0" text-anchor="middle" textLength="14.5" lengthAdjust="spacingAndGlyphs">2025</text>
<text x="823.36" y="560.9" font-size="6.5" fill="#c9cbd3" text-anchor="middle">Mrz</text>
<text x="855.98" y="560.9" font-size="6.5" fill="#c9cbd3" text-anchor="middle">Mai</text>
<text x="888.60" y="560.9" font-size="6.5" fill="#c9cbd3" text-anchor="middle">Jul</text>
<text x="917.60" y="560.9" font-size="6.5" fill="#c9cbd3" text-anchor="middle">Sep</text>
<text x="950.22" y="560.9" font-size="6.5" fill="#c9cbd3" text-anchor="middle">Nov</text>
<path d="M1004.1 555.4 L1007.8 555.4 L1009.5 558.5 L1007.8 561.6 L1004.1 561.6 L1002.3 558.5 Z" fill="none" stroke="#3c3f47" stroke-width="0.8" stroke-linejoin="round"/>
<circle cx="1005.9" cy="558.5" r="0.9" fill="none" stroke="#3c3f47" stroke-width="0.7"/>
<g stroke="#fff" stroke-width="1.6" stroke-linejoin="round" fill="#fff">
<path d="M4.4 538.1 H9.8 V544.9 H6.8 V540.6 H4.4 Z"/><circle cx="12.4" cy="539.5" r="1.3"/><path d="M15.6 538.1 L18.6 538.1 L15.9 544.9 L12.7 544.9 Z"/>
<text x="22.1" y="545" font-size="9.7" font-weight="bold" textLength="56.4" lengthAdjust="spacingAndGlyphs" stroke-width="1.8">TradingView</text>
</g>
<g fill="#131313">
<path d="M4.4 538.1 H9.8 V544.9 H6.8 V540.6 H4.4 Z"/><circle cx="12.4" cy="539.5" r="1.3"/><path d="M15.6 538.1 L18.6 538.1 L15.9 544.9 L12.7 544.9 Z"/>
<text x="22.1" y="545" font-size="9.7" font-weight="bold" textLength="56.4" lengthAdjust="spacingAndGlyphs">TradingView</text>
</g>
<rect x="0" y="564.8" width="1024" height="2.2" fill="#161616"/>
</g>
</svg></body></html>
